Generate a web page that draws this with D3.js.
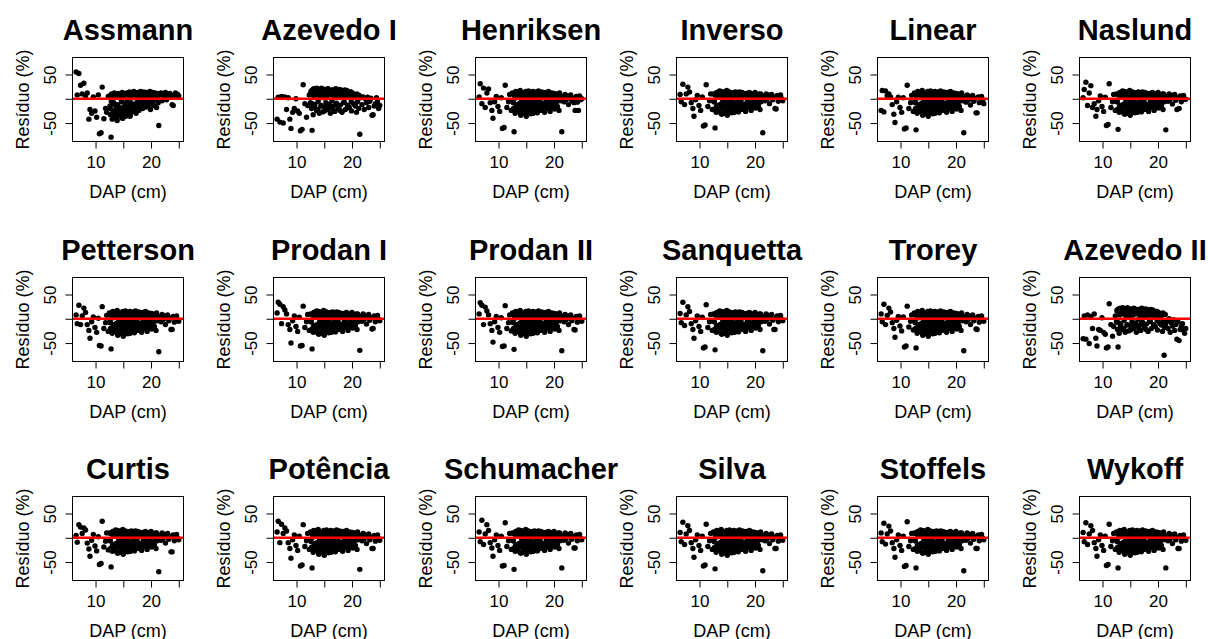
<!DOCTYPE html>
<meta charset="utf-8">
<style>
body { margin: 0; background: #fff; }
text { font-family: "Liberation Sans", Arial, sans-serif; fill: #000; }
</style>
<body>
<script src="https://d3js.org/d3.v7.min.js"></script>
<script>
// titulos dos paineis (ordem da figura)
const titulos = ["Assmann", "Azevedo I", "Henriksen", "Inverso", "Linear", "Naslund",
  "Petterson", "Prodan I", "Prodan II", "Sanquetta", "Trorey", "Azevedo II",
  "Curtis", "Potência", "Schumacher", "Silva", "Stoffels", "Wykoff"];

// DAP (cm) das arvores, comum a todos os modelos
const dap = [6.5, 6.7, 7.0, 7.3, 7.6, 7.9, 8.2, 8.5, 8.8, 9.0, 9.3, 9.6, 9.9, 10.2, 10.5, 10.7, 11.0, 11.2, 11.5, 11.8, 12.0, 12.3,
  12.5, 12.6, 12.7, 12.8, 12.9, 13.0, 13.1, 13.2, 13.3, 13.4,
  13.5, 13.6, 13.7, 13.8, 13.9, 14.0, 14.1, 14.2, 14.3, 14.4,
  14.5, 14.6, 14.7, 14.8, 14.9, 15.0, 15.1, 15.2, 15.3, 15.4,
  15.5, 15.6, 15.7, 15.8, 15.9, 16.0, 16.1, 16.2, 16.3, 16.4,
  16.5, 16.6, 16.7, 16.8, 16.9, 17.0, 17.1, 17.2, 17.3, 17.4,
  17.5, 17.6, 17.7, 17.8, 17.9, 18.0, 18.1, 18.2, 18.3, 18.4,
  18.5, 18.6, 18.7, 18.8, 18.9, 19.0, 19.1, 19.2, 19.3, 19.4,
  19.5, 19.6, 19.7, 19.8, 19.9, 20.0, 20.1, 20.2, 20.3, 20.4,
  20.5, 20.6, 20.7, 20.8, 20.9, 21.0, 21.1, 21.2, 21.3, 21.4,
  21.6, 21.8, 22.0, 22.2, 22.4, 22.6, 22.8, 23.0, 23.2, 23.4, 23.6, 23.8, 24.0, 24.2, 24.4, 24.6, 24.8, 25.0,
  12.65, 12.85, 13.05, 13.25, 13.45, 13.65, 13.85, 14.05, 14.25, 14.45, 14.65, 14.85, 15.05, 15.25, 15.45, 15.65, 15.85, 16.05, 16.25, 16.45,
  16.65, 16.85, 17.05, 17.25, 17.45, 17.65, 17.85, 18.05, 18.25, 18.45, 18.65, 18.85, 19.05, 19.25, 19.45, 19.65, 19.85, 20.05, 20.25, 20.45];

// residuos (%) de cada modelo
const resAssmann = [55, 8, 52, 28, 10, 32, 6, 12, -42, -22, -30, 4, -25, -38, 8, -72, -70, 24, -41, -20, -28, 5,
  6, -15, -33, -79, 10, -42, 3, -25, -8, 12,
  -38, 5, -20, 9, -45, -12, 11, -30, 2, -22,
  8, -35, -6, 13, -40, -18, 4, -27, 10, -10,
  -32, 12, -4, -22, 7, -14, 14, -36, 3, -8,
  11, -26, 6, -12, 15, -20, 2, 12, -30, 8,
  -16, 13, 4, -24, 9, -6, 15, -13, 7, 11,
  -20, 6, 14, -9, 10, 2, -17, 13, 5, -3,
  12, -11, 8, 15, -22, 4, 10, -6, 13, 1,
  -14, 9, 12, -2, 7, -18, 11, 3, -8, -55,
  8, 12, -4, 10, 5, 13, -2, 9, 6, 11, 3, -12, -14, 8, 12, 4, 9, 6,
  -20, -5, -30, -38, -12, -28, -42, -35, -18, -32, -25, -40, -30, -15, -36, -22, -10, -28, -34, -18,
  -26, -12, -20, -24, -8, -15, -22, 2, -12, -18, -5, -14, 6, -8, -16, 3, -10, 7, -4, 9];

const resAzevedoI = [-42, 3, -48, 5, -50, 4, -22, 2, -42, -61, -28, -20, 0, -25, -30, -66, -63, 29, -10, -38, -14, 8,
  -8, 14, -20, -65, 18, -33, 6, 21, -12, 10,
  16, -24, 8, 20, -5, 12, -30, 17, 3, -15,
  22, 9, -27, 14, 2, 19, -18, 11, -8, 16,
  6, -22, 20, 13, -11, 17, -30, 8, 15, -4,
  18, -16, 11, 4, -26, 14, 21, -9, 7, 12,
  -20, 16, 9, 19, -13, 3, 12, -28, 17, 6,
  13, -7, 18, -22, 10, 5, 15, -14, 8, 11,
  -18, 12, 4, 14, -25, 9, 2, 10, -10, 6,
  8, -15, 5, -28, 10, -6, 3, -20, 7, -73,
  2, -12, 4, -22, 0, -8, 3, -18, -5, 1, -34, -33, -15, -10, 2, -6, -20, -14,
  16, -10, 20, -18, 12, 22, -22, 8, 18, -14, 20, 10, -25, 15, 6, 21, -16, 12, 17, -20,
  9, 19, -12, 14, 4, 18, -24, 11, 16, -8, 13, 6, 17, -15, 10, 14, -6, 12, 8, -12];

const resHenriksen = [4, 31, -10, 22, -18, 12, 20, -8, -24, -40, -6, 5, -16, -26, 2, -61, -59, 28, -18, -6, 9, -24,
  12, -4, -20, -68, 7, -30, 15, 2, -12, 10,
  -26, 14, 5, -9, 17, -34, 8, -2, 12, -18,
  4, -28, 11, -7, 15, -36, 9, -14, 1, 16,
  -22, 7, 13, -31, 3, 10, -11, 15, -25, 6,
  12, -6, -19, 14, 2, -29, 9, 16, -13, 5,
  -24, 11, 3, 14, -9, 7, -17, 12, -28, 8,
  13, -5, 6, -20, 10, 15, -11, 2, -26, 9,
  4, 12, -14, 7, -3, 11, -21, 6, 10, -8,
  9, -16, 3, 8, -24, 12, -4, 6, 1, -68,
  4, -6, 9, -2, 6, -12, 3, 8, -4, 1, -8, -24, 5, -7, -24, 6, -2, 0,
  -8, 6, -18, -24, 3, -15, -28, -20, -6, -24, -14, -32, -22, -9, -26, -17, -4, -20, -30, -12,
  -23, -8, -16, -21, -6, -13, -19, 4, -10, -17, -2, -14, 8, -6, -18, 1, -12, 5, -15, -3];

const resInverso = [9, -6, 30, -12, 10, 24, 14, -8, -20, -36, -2, 7, -14, -24, 4, -56, -54, 29, -16, -4, 10, -22,
  10, -6, -22, -60, 9, -28, 13, 4, -14, 12,
  -24, 16, 3, -11, 15, -32, 10, -4, 14, -16,
  6, -30, 13, -5, 17, -34, 7, -12, 3, 14,
  -20, 9, 11, -29, 5, 12, -13, 13, -27, 4,
  14, -8, -17, 12, 4, -27, 11, 14, -15, 7,
  -22, 13, 1, 12, -11, 9, -15, 10, -26, 6,
  11, -7, 8, -18, 12, 13, -9, 4, -24, 7,
  6, 10, -12, 9, -5, 13, -19, 4, 8, -10,
  7, -14, 5, 10, -22, 10, -6, 4, 3, -70,
  6, -4, 10, 0, 8, -10, 5, 9, -2, 3, -20, -21, 7, -5, 4, 8, 0, -4,
  -6, 8, -16, -26, 5, -13, -30, -18, -8, -22, -16, -30, -24, -7, -28, -15, -6, -22, -28, -10,
  -25, -6, -18, -19, -8, -11, -21, 6, -12, -15, -4, -12, 10, -8, -16, 3, -10, 7, -13, -5];

const resLinear = [-24, 17, -27, 16, 6, 10, 4, -12, -32, -49, -6, 3, -18, -28, 2, -62, -60, 28, -20, -8, 7, -26,
  12, -4, -20, -64, 7, -30, 15, 2, -12, 10,
  -26, 14, 5, -9, 17, -34, 8, -2, 12, -18,
  4, -28, 11, -7, 15, -36, 9, -14, 1, 16,
  -22, 7, 13, -31, 3, 10, -11, 15, -25, 6,
  12, -6, -19, 14, 2, -29, 9, 16, -13, 5,
  -24, 11, 3, 14, -9, 7, -17, 12, -28, 8,
  13, -5, 6, -20, 10, 15, -11, 2, -26, 9,
  4, 12, -14, 7, -3, 11, -21, 6, 10, -8,
  9, -16, 3, 8, -24, 12, -4, 6, 1, -70,
  3, -7, 8, -3, 5, -13, 2, 7, -5, 0, -29, -29, 4, -8, 2, 5, -3, -10,
  -8, 6, -18, -24, 3, -15, -28, -20, -6, -24, -14, -32, -22, -9, -26, -17, -4, -20, -30, -12,
  -23, -8, -16, -21, -6, -13, -19, 4, -10, -17, -2, -14, 8, -6, -18, 1, -12, 5, -15, -3];

const resNaslund = [2, 19, 34, -14, 12, 27, -18, -10, -36, -22, -4, 6, -16, -26, 3, -55, -53, 31, -18, -6, 9, -24,
  10, -6, -22, -63, 9, -28, 13, 4, -14, 12,
  -24, 16, 3, -11, 15, -32, 10, -4, 14, -16,
  6, -30, 13, -5, 17, -34, 7, -12, 3, 14,
  -20, 9, 11, -29, 5, 12, -13, 13, -27, 4,
  14, -8, -17, 12, 4, -27, 11, 14, -15, 7,
  -22, 13, 1, 12, -11, 9, -15, 10, -26, 6,
  11, -7, 8, -18, 12, 13, -9, 4, -24, 7,
  6, 10, -12, 9, -5, 13, -19, 4, 8, -10,
  7, -14, 5, 10, -22, 10, -6, 4, 3, -64,
  5, -5, 10, -1, 7, -11, 4, 9, -3, -22, 2, -20, 6, -6, 4, 7, -1, -1,
  -6, 8, -16, -26, 5, -13, -30, -18, -8, -22, -16, -30, -24, -7, -28, -15, -6, -22, -28, -10,
  -25, -6, -18, -19, -8, -11, -21, 6, -12, -15, -4, -12, 10, -8, -16, 3, -10, 7, -13, -5];

const resPetterson = [8, -10, 28, -12, 6, 22, 13, -12, -24, -40, -6, 4, -18, -28, 1, -55, -56, 25, -20, -8, 7, -26,
  12, -4, -20, -62, 7, -30, 15, 2, -12, 10,
  -26, 14, 5, -9, 17, -34, 8, -2, 12, -18,
  4, -28, 11, -7, 15, -36, 9, -14, 1, 16,
  -22, 7, 13, -31, 3, 10, -11, 15, -25, 6,
  12, -6, -19, 14, 2, -29, 9, 16, -13, 5,
  -24, 11, 3, 14, -9, 7, -17, 12, -28, 8,
  13, -5, 6, -20, 10, 15, -11, 2, -26, 9,
  4, 12, -14, 7, -3, 11, -21, 6, 10, -8,
  9, -16, 3, 8, -24, 12, -4, 6, 1, -68,
  4, -6, 9, -2, 6, -12, 3, 8, -4, 1, -22, -22, 5, -7, 3, 6, -2, -5,
  -8, 6, -18, -24, 3, -15, -28, -20, -6, -24, -14, -32, -22, -9, -26, -17, -4, -20, -30, -12,
  -23, -8, -16, -21, -6, -13, -19, 4, -10, -17, -2, -14, 8, -6, -18, 1, -12, 5, -15, -3];

const resProdanI = [12, 34, 30, -10, 25, 18, 10, -12, -22, -50, -4, 6, -16, -26, 3, -56, -55, 26, -18, -6, 9, -24,
  10, -6, -22, -62, 9, -28, 13, 4, -14, 12,
  -24, 16, 3, -11, 15, -32, 10, -4, 14, -16,
  6, -30, 13, -5, 17, -34, 7, -12, 3, 14,
  -20, 9, 11, -29, 5, 12, -13, 13, -27, 4,
  14, -8, -17, 12, 4, -27, 11, 14, -15, 7,
  -22, 13, 1, 12, -11, 9, -15, 10, -26, 6,
  11, -7, 8, -18, 12, 13, -9, 4, -24, 7,
  6, 10, -12, 9, -5, 13, -19, 4, 8, -10,
  7, -14, 5, 10, -22, 10, -6, 4, 3, -65,
  5, -5, 10, -1, 7, -11, 4, 9, -3, 2, -21, -20, 6, -6, 4, 7, -1, -4,
  -6, 8, -16, -26, 5, -13, -30, -18, -8, -22, -16, -30, -24, -7, -28, -15, -6, -22, -28, -10,
  -25, -6, -18, -19, -8, -11, -21, 6, -12, -15, -4, -12, 10, -8, -16, 3, -10, 7, -13, -5];

const resProdanII = [10, 33, 28, -12, 24, 16, 8, -10, -24, -48, -6, 5, -18, -28, 2, -57, -56, 27, -20, -8, 8, -25,
  12, -4, -20, -63, 7, -30, 15, 2, -12, 10,
  -26, 14, 5, -9, 17, -34, 8, -2, 12, -18,
  4, -28, 11, -7, 15, -36, 9, -14, 1, 16,
  -22, 7, 13, -31, 3, 10, -11, 15, -25, 6,
  12, -6, -19, 14, 2, -29, 9, 16, -13, 5,
  -24, 11, 3, 14, -9, 7, -17, 12, -28, 8,
  13, -5, 6, -20, 10, 15, -11, 2, -26, 9,
  4, 12, -14, 7, -3, 11, -21, 6, 10, -8,
  9, -16, 3, 8, -24, 12, -4, 6, 1, -66,
  4, -6, 9, -2, 6, -12, 3, 8, -4, 1, -22, -23, 5, -7, 3, 6, -2, -5,
  -8, 6, -18, -24, 3, -15, -28, -20, -6, -24, -14, -32, -22, -9, -26, -17, -4, -20, -30, -12,
  -23, -8, -16, -21, -6, -13, -19, 4, -10, -17, -2, -14, 8, -6, -18, 1, -12, 5, -15, -3];

const resSanquetta = [11, -8, 34, -14, 8, 25, 15, -10, -22, -40, -4, 6, -16, -26, 3, -60, -58, 29, -18, -6, 9, -24,
  10, -6, -22, -64, 9, -28, 13, 4, -14, 12,
  -24, 16, 3, -11, 15, -32, 10, -4, 14, -16,
  6, -30, 13, -5, 17, -34, 7, -12, 3, 14,
  -20, 9, 11, -29, 5, 12, -13, 13, -27, 4,
  14, -8, -17, 12, 4, -27, 11, 14, -15, 7,
  -22, 13, 1, 12, -11, 9, -15, 10, -26, 6,
  11, -7, 8, -18, 12, 13, -9, 4, -24, 7,
  6, 10, -12, 9, -5, 13, -19, 4, 8, -10,
  7, -14, 5, 10, -22, 10, -6, 4, 3, -66,
  5, -5, 10, -1, 7, -11, 4, 9, -3, -22, -22, 2, 6, -6, 4, 7, -1, -4,
  -6, 8, -16, -26, 5, -13, -30, -18, -8, -22, -16, -30, -24, -7, -28, -15, -6, -22, -28, -10,
  -25, -6, -18, -19, -8, -11, -21, 6, -12, -15, -4, -12, 10, -8, -16, 3, -10, 7, -13, -5];

const resTrorey = [10, -6, 30, -12, 7, 22, 14, -8, -20, -38, -3, 5, -15, -25, 4, -58, -56, 26, -17, -5, 8, -23,
  12, -4, -20, -60, 7, -30, 15, 2, -12, 10,
  -26, 14, 5, -9, 17, -34, 8, -2, 12, -18,
  4, -28, 11, -7, 15, -36, 9, -14, 1, 16,
  -22, 7, 13, -31, 3, 10, -11, 15, -25, 6,
  12, -6, -19, 14, 2, -29, 9, 16, -13, 5,
  -24, 11, 3, 14, -9, 7, -17, 12, -28, 8,
  13, -5, 6, -20, 10, 15, -11, 2, -26, 9,
  4, 12, -14, 7, -3, 11, -21, 6, 10, -8,
  9, -16, 3, 8, -24, 12, -4, 6, 1, -66,
  4, -6, 9, -2, 6, -12, 3, 8, -4, 1, -21, -22, 5, -7, 3, 6, -2, -5,
  -8, 6, -18, -24, 3, -15, -28, -20, -6, -24, -14, -32, -22, -9, -26, -17, -4, -20, -30, -12,
  -23, -8, -16, -21, -6, -13, -19, 4, -10, -17, -2, -14, 8, -6, -18, 1, -12, 5, -15, -3];

const resAzevedoII = [-41, 6, -42, 8, -51, 5, -20, 10, -40, -56, -22, -24, 2, -28, -32, -60, -58, 31, -12, -36, -16, 6,
  -6, 16, -22, -58, 20, -30, 8, 22, -10, 12,
  18, -22, 10, 21, -3, 14, -28, 19, 5, -13,
  23, 11, -25, 16, 4, 20, -16, 13, -6, 18,
  8, -20, 21, 15, -9, 19, -28, 10, 17, -2,
  19, -14, 13, 6, -24, 16, 22, -7, 9, 14,
  -18, 17, 11, 20, -11, 5, 14, -26, 18, 8,
  14, -5, 19, -20, 12, 7, 16, -12, 10, 13,
  -16, 14, 6, 15, -23, 11, 4, 12, -8, 8,
  10, -13, 7, -26, 12, -4, -75, -18, 9, -10,
  -5, -20, 0, -28, -8, -15, -2, -24, -12, -42, -6, -45, -22, -16, -10, -24, -30, -20,
  18, -8, 21, -16, 14, 23, -20, 10, 19, -12, 21, 12, -23, 17, 8, 22, -14, 14, 18, -18,
  11, 20, -10, 16, 6, 19, -22, 13, 17, -6, 15, 8, 18, -13, 12, 15, -4, 13, 10, -10];

const resCurtis = [5, -9, 27, 22, 9, 20, 16, -11, -23, -38, -5, 7, -17, -27, 2, -55, -53, 34, -19, -7, 10, -25,
  10, -6, -22, -60, 9, -28, 13, 4, -14, 12,
  -24, 16, 3, -11, 15, -32, 10, -4, 14, -16,
  6, -30, 13, -5, 17, -34, 7, -12, 3, 14,
  -20, 9, 11, -29, 5, 12, -13, 13, -27, 4,
  14, -8, -17, 12, 4, -27, 11, 14, -15, 7,
  -22, 13, 1, 12, -11, 9, -15, 10, -26, 6,
  11, -7, 8, -18, 12, 13, -9, 4, -24, 7,
  6, 10, -12, 9, -5, 13, -19, 4, 8, -10,
  7, -14, 5, 10, -22, 10, -6, 4, 3, -70,
  5, -5, 10, -1, 7, -11, 4, 9, -3, 2, -29, -29, 6, -6, 4, 7, -1, -4,
  -6, 8, -16, -26, 5, -13, -30, -18, -8, -22, -16, -30, -24, -7, -28, -15, -6, -22, -28, -10,
  -25, -6, -18, -19, -8, -11, -21, 6, -12, -15, -4, -12, 10, -8, -16, 3, -10, 7, -13, -5];

const resPotencia = [12, 34, -10, 28, 9, 20, 14, -10, -22, -42, -4, 6, -16, -26, 3, -58, -56, 27, -18, -6, 9, -24,
  12, -4, -20, -62, 7, -30, 15, 2, -12, 10,
  -26, 14, 5, -9, 17, -34, 8, -2, 12, -18,
  4, -28, 11, -7, 15, -36, 9, -14, 1, 16,
  -22, 7, 13, -31, 3, 10, -11, 15, -25, 6,
  12, -6, -19, 14, 2, -29, 9, 16, -13, 5,
  -24, 11, 3, 14, -9, 7, -17, 12, -28, 8,
  13, -5, 6, -20, 10, 15, -11, 2, -26, 9,
  4, 12, -14, 7, -3, 11, -21, 6, 10, -8,
  9, -16, 3, 8, -24, 12, -4, 6, 1, -65,
  4, -6, 9, -2, 6, -12, 3, 8, -4, 1, -22, -22, 5, -7, 3, 6, -2, -5,
  -8, 6, -18, -24, 3, -15, -28, -20, -6, -24, -14, -32, -22, -9, -26, -17, -4, -20, -30, -12,
  -23, -8, -16, -21, -6, -13, -19, 4, -10, -17, -2, -14, 8, -6, -18, 1, -12, 5, -15, -3];

const resSchumacher = [12, -8, 36, -14, 8, 27, 15, -10, -21, -38, -4, 6, -16, -26, 3, -58, -57, 31, -18, -6, 9, -24,
  10, -6, -22, -65, 9, -28, 13, 4, -14, 12,
  -24, 16, 3, -11, 15, -32, 10, -4, 14, -16,
  6, -30, 13, -5, 17, -34, 7, -12, 3, 14,
  -20, 9, 11, -29, 5, 12, -13, 13, -27, 4,
  14, -8, -17, 12, 4, -27, 11, 14, -15, 7,
  -22, 13, 1, 12, -11, 9, -15, 10, -26, 6,
  11, -7, 8, -18, 12, 13, -9, 4, -24, 7,
  6, 10, -12, 9, -5, 13, -19, 4, 8, -10,
  7, -14, 5, 10, -22, 10, -6, 4, 3, -62,
  5, -5, 10, -1, 7, -11, 4, 9, -3, 2, -21, -21, 6, -6, 4, 7, -1, -4,
  -6, 8, -16, -26, 5, -13, -30, -18, -8, -22, -16, -30, -24, -7, -28, -15, -6, -22, -28, -10,
  -25, -6, -18, -19, -8, -11, -21, 6, -12, -15, -4, -12, 10, -8, -16, 3, -10, 7, -13, -5];

const resSilva = [11, -8, 32, -14, 8, 25, 15, -10, -22, -40, -4, 6, -16, -26, 3, -58, -56, 28, -18, -6, 9, -24,
  12, -4, -20, -64, 7, -30, 15, 2, -12, 10,
  -26, 14, 5, -9, 17, -34, 8, -2, 12, -18,
  4, -28, 11, -7, 15, -36, 9, -14, 1, 16,
  -22, 7, 13, -31, 3, 10, -11, 15, -25, 6,
  12, -6, -19, 14, 2, -29, 9, 16, -13, 5,
  -24, 11, 3, 14, -9, 7, -17, 12, -28, 8,
  13, -5, 6, -20, 10, 15, -11, 2, -26, 9,
  4, 12, -14, 7, -3, 11, -21, 6, 10, -8,
  9, -16, 3, 8, -24, 12, -4, 6, 1, -68,
  4, -6, 9, -2, 6, -12, 3, 8, -4, 1, -22, -22, 5, -7, 3, 6, -2, -5,
  -8, 6, -18, -24, 3, -15, -28, -20, -6, -24, -14, -32, -22, -9, -26, -17, -4, -20, -30, -12,
  -23, -8, -16, -21, -6, -13, -19, 4, -10, -17, -2, -14, 8, -6, -18, 1, -12, 5, -15, -3];

const resStoffels = [10, -8, 30, -13, 8, 24, 14, -10, -22, -40, -4, 6, -16, -26, 3, -59, -57, 33, -18, -6, 9, -24,
  10, -6, -22, -62, 9, -28, 13, 4, -14, 12,
  -24, 16, 3, -11, 15, -32, 10, -4, 14, -16,
  6, -30, 13, -5, 17, -34, 7, -12, 3, 14,
  -20, 9, 11, -29, 5, 12, -13, 13, -27, 4,
  14, -8, -17, 12, 4, -27, 11, 14, -15, 7,
  -22, 13, 1, 12, -11, 9, -15, 10, -26, 6,
  11, -7, 8, -18, 12, 13, -9, 4, -24, 7,
  6, 10, -12, 9, -5, 13, -19, 4, 8, -10,
  7, -14, 5, 10, -22, 10, -6, 4, 3, -68,
  5, -5, 10, -1, 7, -11, 4, 9, -3, 2, -22, -22, 6, -6, 4, 7, -1, -4,
  -6, 8, -16, -26, 5, -13, -30, -18, -8, -22, -16, -30, -24, -7, -28, -15, -6, -22, -28, -10,
  -25, -6, -18, -19, -8, -11, -21, 6, -12, -15, -4, -12, 10, -8, -16, 3, -10, 7, -13, -5];

const resWykoff = [11, -8, 31, -14, 8, 25, 15, -10, -22, -38, -4, 6, -16, -26, 3, -57, -55, 28, -18, -6, 9, -24,
  12, -4, -20, -62, 7, -30, 15, 2, -12, 10,
  -26, 14, 5, -9, 17, -34, 8, -2, 12, -18,
  4, -28, 11, -7, 15, -36, 9, -14, 1, 16,
  -22, 7, 13, -31, 3, 10, -11, 15, -25, 6,
  12, -6, -19, 14, 2, -29, 9, 16, -13, 5,
  -24, 11, 3, 14, -9, 7, -17, 12, -28, 8,
  13, -5, 6, -20, 10, 15, -11, 2, -26, 9,
  4, 12, -14, 7, -3, 11, -21, 6, 10, -8,
  9, -16, 3, 8, -24, 12, -4, 6, 1, -62,
  4, -6, 9, -2, 6, -12, 3, 8, -4, 1, -22, -22, 5, -7, 3, 6, -2, -5,
  -8, 6, -18, -24, 3, -15, -28, -20, -6, -24, -14, -32, -22, -9, -26, -17, -4, -20, -30, -12,
  -23, -8, -16, -21, -6, -13, -19, 4, -10, -17, -2, -14, 8, -6, -18, 1, -12, 5, -15, -3];

// eixos
const xTicks = [10, 15, 20, 25];
const yTicks = [-50, 0, 50];

const residuos = [resAssmann, resAzevedoI, resHenriksen, resInverso, resLinear, resNaslund,
  resPetterson, resProdanI, resProdanII, resSanquetta, resTrorey, resAzevedoII,
  resCurtis, resPotencia, resSchumacher, resSilva, resStoffels, resWykoff];

// layout
var width = 1208, height = 639;
var colW = 1208 / 6, rowH = 219.5;
var boxW = 111, boxH = 84;

var x = d3.scaleLinear().domain([5.85, 25.85]).range([0, boxW]);
var y = d3.scaleLinear().domain([-88, 85]).range([boxH, 0]);

var svg = d3.select("body").append("svg")
    .attr("width", width)
    .attr("height", height);

titulos.forEach(function(titulo, i) {
  var col = i % 6, row = Math.floor(i / 6);
  var g = svg.append("g")
      .attr("transform", "translate(" + (Math.round(col * colW + 72) + 0.5) + "," + (Math.round(57 + row * rowH) + 0.5) + ")");

  // pontos
  g.selectAll("circle")
    .data(d3.zip(dap, residuos[i]))
    .join("circle")
      .attr("cx", function(d) { return x(d[0]); })
      .attr("cy", function(d) { return y(d[1]); })
      .attr("r", 2.7)
      .attr("fill", "#000");

  // linha zero
  g.append("line")
      .attr("x1", 0).attr("x2", boxW)
      .attr("y1", y(0)).attr("y2", y(0))
      .attr("stroke", "#ff0000")
      .attr("stroke-width", 2.5);

  // caixa
  g.append("rect")
      .attr("width", boxW).attr("height", boxH)
      .attr("fill", "none")
      .attr("stroke", "#000")
      .attr("stroke-width", 1);

  // eixo x
  var ax = g.append("g")
      .attr("transform", "translate(0," + boxH + ")")
      .call(d3.axisBottom(x).tickValues(xTicks).tickSize(7)
        .tickFormat(function(d) { return d % 10 === 0 ? d : ""; }));
  ax.select(".domain").remove();
  ax.attr("color", "#000").attr("font-size", 17).attr("font-family", "Liberation Sans, Arial, sans-serif");
  ax.selectAll("text").attr("y", 26).attr("dy", 0);

  // eixo y
  var ay = g.append("g")
      .call(d3.axisLeft(y).tickValues(yTicks).tickSize(7)
        .tickFormat(function(d) { return d === 0 ? "" : String(d); }));
  ay.select(".domain").remove();
  ay.attr("color", "#000").attr("font-size", 17).attr("font-family", "Liberation Sans, Arial, sans-serif");
  ay.selectAll("text")
      .attr("x", 0).attr("dy", 0)
      .attr("text-anchor", "middle")
      .attr("transform", "translate(-17,0) rotate(-90)");

  // rotulos
  g.append("text")
      .attr("x", boxW / 2).attr("y", boxH + 56)
      .attr("text-anchor", "middle")
      .style("font-size", "18px")
      .text("DAP (cm)");

  g.append("text")
      .attr("transform", "translate(-44," + (boxH / 2) + ") rotate(-90)")
      .attr("text-anchor", "middle")
      .style("font-size", "18px")
      .text("Resíduo (%)");

  g.append("text")
      .attr("x", boxW / 2).attr("y", -18)
      .attr("text-anchor", "middle")
      .style("font-size", "29px")
      .style("font-weight", "bold")
      .text(titulo);
});

residuos.forEach(function(r, i) {
  if (r.length !== dap.length) throw new Error(titulos[i] + " tem " + r.length + " valores, dap tem " + dap.length);
});
</script>
</body>
